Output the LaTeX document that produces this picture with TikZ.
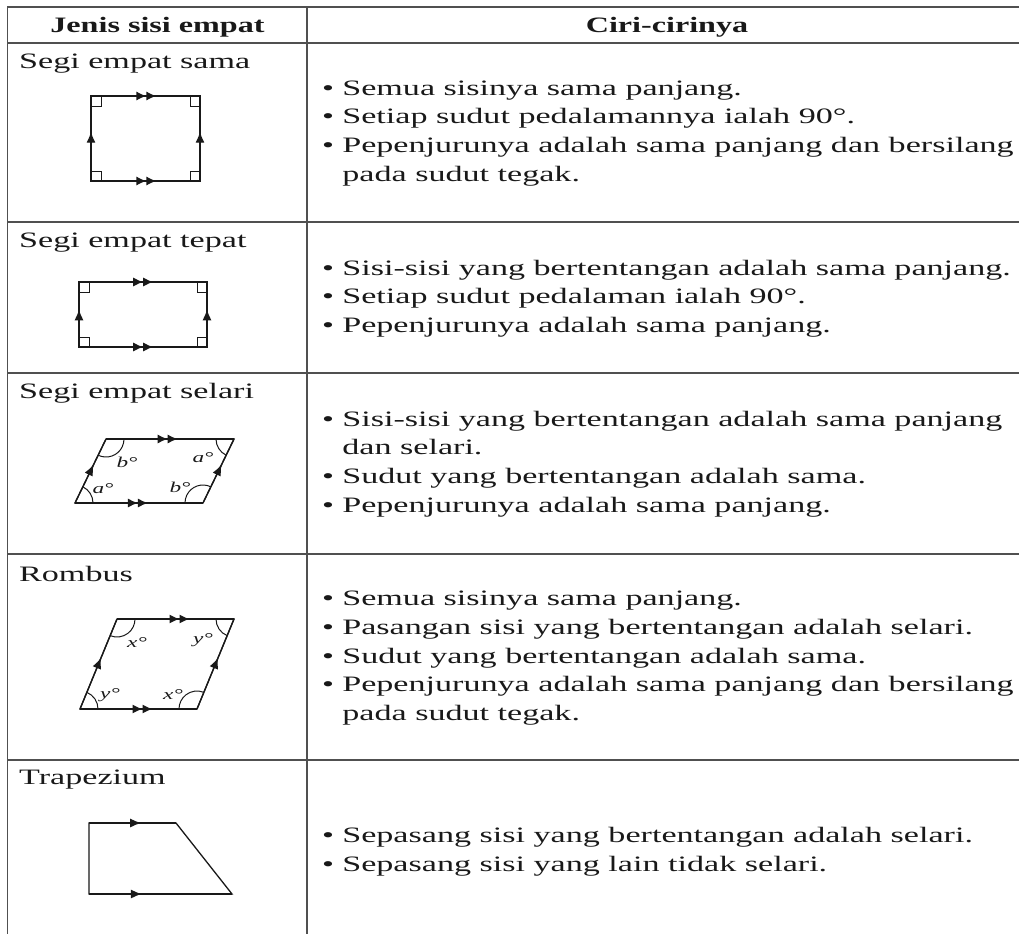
\documentclass[tikz,border=0pt]{standalone}
\usepackage{fontspec}
\setmainfont{Liberation Serif}
\usepackage{graphicx}
\usetikzlibrary{positioning, arrows.meta, decorations.markings, angles}
\definecolor{inkgray}{RGB}{25, 25, 25}
\definecolor{rulegray}{RGB}{80, 80, 80}
\newcommand{\wide}[1]{\scalebox{1.55}[1]{#1}}
\newcommand{\widebf}[1]{\scalebox{1.46}[1]{#1}}
\newcommand{\bul}{\makebox[13pt][l]{\textbullet}}

\begin{document}
\begin{tikzpicture}[
    x=1pt, y=1pt,
    rule/.style={draw=rulegray, line width=1.6pt},
    head/.style={font=\fontsize{22}{28.7}\selectfont\bfseries, text=inkgray, inner sep=0pt},
    kind/.style={anchor=west, font=\fontsize{22}{28.7}\selectfont, text=inkgray, inner sep=0pt},
    ciri/.style={anchor=west, font=\fontsize{22}{28.7}\selectfont, text=inkgray, inner sep=0pt},
    fig/.style={draw=inkgray, line width=1.3pt},
    onetip/.style={postaction={decorate}, decoration={markings, mark=at position #1 with {\arrow{Latex[length=11pt,width=9pt]}}}},
    twotip/.style={postaction={decorate}, decoration={markings, mark=at position #1 with {\arrow{Latex[length=10pt,width=9pt] Latex[length=10pt,width=9pt]}}}},
    rangle/.style={draw=inkgray, line width=1pt, angle radius=10pt},
    arcang/.style={draw=inkgray, line width=1pt, angle radius=18pt},
    deg/.style={font=\fontsize{15}{15}\selectfont\itshape, text=inkgray, inner sep=0pt}
]
    \useasboundingbox (0,0) rectangle (1019,-934);

    \draw[rule] (7,-7) -- (1019,-7);
    \draw[rule] (7,-43) -- (1019,-43);
    \draw[rule] (7,-222) -- (1019,-222);
    \draw[rule] (7,-373) -- (1019,-373);
    \draw[rule] (7,-554) -- (1019,-554);
    \draw[rule] (7,-760) -- (1019,-760);
    \draw[rule] (7.5,-7) -- (7.5,-934);
    \draw[rule] (307,-7) -- (307,-934);

    \node[head] (jenis) at (157.5,-27) {\widebf{Jenis sisi empat}};
    \node[head] (ciri) at (667,-27) {\widebf{Ciri-cirinya}};

    \node[kind] (sama) at (19,-64) {\wide{Segi empat sama}};
    \node[kind] (tepat) at (19,-243) {\wide{Segi empat tepat}};
    \node[kind] (selari) at (19,-393) {\wide{Segi empat selari}};
    \node[kind] (rombus) at (19,-574) {\wide{Rombus}};
    \node[kind] (trapezium) at (19,-780) {\wide{Trapezium}};

    \node[ciri] (ciri1) at (322,-132.5) {\wide{\begin{tabular}{@{}l@{}}
        \bul Semua sisinya sama panjang.\\
        \bul Setiap sudut pedalamannya ialah 90°.\\
        \bul Pepenjurunya adalah sama panjang dan bersilang\\
        \hspace*{13pt}pada sudut tegak.\end{tabular}}};
    \node[ciri] (ciri2) at (322,-298) {\wide{\begin{tabular}{@{}l@{}}
        \bul Sisi-sisi yang bertentangan adalah sama panjang.\\
        \bul Setiap sudut pedalaman ialah 90°.\\
        \bul Pepenjurunya adalah sama panjang.\end{tabular}}};
    \node[ciri] (ciri3) at (322,-463.5) {\wide{\begin{tabular}{@{}l@{}}
        \bul Sisi-sisi yang bertentangan adalah sama panjang\\
        \hspace*{13pt}dan selari.\\
        \bul Sudut yang bertentangan adalah sama.\\
        \bul Pepenjurunya adalah sama panjang.\end{tabular}}};
    \node[ciri] (ciri4) at (322,-657.5) {\wide{\begin{tabular}{@{}l@{}}
        \bul Semua sisinya sama panjang.\\
        \bul Pasangan sisi yang bertentangan adalah selari.\\
        \bul Sudut yang bertentangan adalah sama.\\
        \bul Pepenjurunya adalah sama panjang dan bersilang\\
        \hspace*{13pt}pada sudut tegak.\end{tabular}}};
    \node[ciri] (ciri5) at (322,-851.5) {\wide{\begin{tabular}{@{}l@{}}
        \bul Sepasang sisi yang bertentangan adalah selari.\\
        \bul Sepasang sisi yang lain tidak selari.\end{tabular}}};

    \coordinate (sqA) at (91,-96);
    \coordinate (sqB) at (200,-96);
    \coordinate (sqC) at (200,-181);
    \coordinate (sqD) at (91,-181);
    \draw[fig] (sqA) -- (sqB) -- (sqC) -- (sqD) -- cycle;
    \draw[fig, twotip=0.6] (sqA) -- (sqB);
    \draw[fig, twotip=0.6] (sqD) -- (sqC);
    \draw[fig, onetip=0.58] (sqD) -- (sqA);
    \draw[fig, onetip=0.58] (sqC) -- (sqB);
    \pic[rangle] {right angle = sqB--sqA--sqD};
    \pic[rangle] {right angle = sqA--sqB--sqC};
    \pic[rangle] {right angle = sqB--sqC--sqD};
    \pic[rangle] {right angle = sqC--sqD--sqA};

    \coordinate (reA) at (79,-282);
    \coordinate (reB) at (207,-282);
    \coordinate (reC) at (207,-347);
    \coordinate (reD) at (79,-347);
    \draw[fig] (reA) -- (reB) -- (reC) -- (reD) -- cycle;
    \draw[fig, twotip=0.58] (reA) -- (reB);
    \draw[fig, twotip=0.58] (reD) -- (reC);
    \draw[fig, onetip=0.58] (reD) -- (reA);
    \draw[fig, onetip=0.58] (reC) -- (reB);
    \pic[rangle] {right angle = reB--reA--reD};
    \pic[rangle] {right angle = reA--reB--reC};
    \pic[rangle] {right angle = reB--reC--reD};
    \pic[rangle] {right angle = reC--reD--reA};

    \coordinate (paA) at (106,-439);
    \coordinate (paB) at (234,-439);
    \coordinate (paC) at (203,-503);
    \coordinate (paD) at (75,-503);
    \draw[fig] (paA) -- (paB) -- (paC) -- (paD) -- cycle;
    \draw[fig, twotip=0.56] (paA) -- (paB);
    \draw[fig, twotip=0.57] (paD) -- (paC);
    \draw[fig, onetip=0.6] (paD) -- (paA);
    \draw[fig, onetip=0.6] (paC) -- (paB);
    \pic[arcang] {angle = paD--paA--paB};
    \pic[arcang] {angle = paA--paB--paC};
    \pic[arcang] {angle = paB--paC--paD};
    \pic[arcang] {angle = paC--paD--paA};
    \node[deg] (paLb) at (127,-462) {\wide{b°}};
    \node[deg] (paLa) at (203,-458) {\wide{a°}};
    \node[deg] (paLa2) at (103,-489) {\wide{a°}};
    \node[deg] (paLb2) at (180,-487) {\wide{b°}};

    \coordinate (roA) at (117,-619);
    \coordinate (roB) at (234,-619);
    \coordinate (roC) at (197,-709);
    \coordinate (roD) at (80,-709);
    \draw[fig] (roA) -- (roB) -- (roC) -- (roD) -- cycle;
    \draw[fig, twotip=0.62] (roA) -- (roB);
    \draw[fig, twotip=0.62] (roD) -- (roC);
    \draw[fig, onetip=0.57] (roD) -- (roA);
    \draw[fig, onetip=0.57] (roC) -- (roB);
    \pic[arcang] {angle = roD--roA--roB};
    \pic[arcang] {angle = roA--roB--roC};
    \pic[arcang] {angle = roB--roC--roD};
    \pic[arcang] {angle = roC--roD--roA};
    \node[deg] (roLx) at (137,-643) {\wide{x°}};
    \node[deg] (roLy) at (203,-640) {\wide{y°}};
    \node[deg] (roLy2) at (110,-695) {\wide{y°}};
    \node[deg] (roLx2) at (173,-695) {\wide{x°}};

    \coordinate (trA) at (89,-823);
    \coordinate (trB) at (176,-823);
    \coordinate (trC) at (232,-894);
    \coordinate (trD) at (89,-894);
    \draw[fig] (trA) -- (trB) -- (trC) -- (trD) -- cycle;
    \draw[fig, onetip=0.6] (trA) -- (trB);
    \draw[fig, onetip=0.37] (trD) -- (trC);
\end{tikzpicture}
\end{document}
